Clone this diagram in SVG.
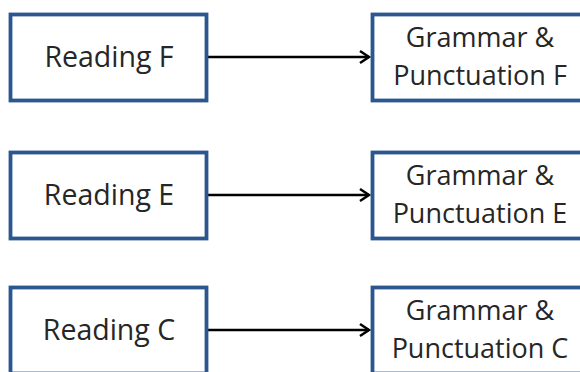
<svg xmlns="http://www.w3.org/2000/svg" width="580" height="372" viewBox="0 0 580 372">
<style>
.box{fill:#fff;stroke:#2b5690;stroke-width:3.8}
.t{font-family:"Open Sans","Liberation Sans",sans-serif;font-size:27px;fill:#262626;text-anchor:middle}
.l{font-size:28.5px}
.c{stroke:#000;stroke-width:2.5;fill:none}
</style>
<defs>
<marker id="ah" markerWidth="14" markerHeight="16" refX="11" refY="8" orient="auto" markerUnits="userSpaceOnUse">
<polyline points="2,2 11,8 2,14" fill="none" stroke="#000" stroke-width="2.5"/>
</marker>
</defs>
<rect width="580" height="372" fill="#fff"/>
<g id="connectors">
<line class="c" x1="208" y1="57" x2="369" y2="57" marker-end="url(#ah)"/>
<line class="c" x1="208" y1="195" x2="369" y2="195" marker-end="url(#ah)"/>
<line class="c" x1="208" y1="330" x2="369" y2="330" marker-end="url(#ah)"/>
</g>
<g id="readingF">
<rect class="box" x="10.5" y="14.5" width="196" height="86"/>
<text class="t l" x="109" y="67">Reading F</text>
</g>
<g id="grammarF">
<rect class="box" x="372.5" y="14.5" width="230" height="86"/>
<text class="t" x="480" y="47">Grammar &amp;</text>
<text class="t" x="480" y="85">Punctuation F</text>
</g>
<g id="readingE">
<rect class="box" x="10.5" y="152.5" width="196" height="86"/>
<text class="t l" x="109" y="205">Reading E</text>
</g>
<g id="grammarE">
<rect class="box" x="372.5" y="152.5" width="230" height="86"/>
<text class="t" x="480" y="185">Grammar &amp;</text>
<text class="t" x="480" y="223">Punctuation E</text>
</g>
<g id="readingC">
<rect class="box" x="10.5" y="287.5" width="196" height="86"/>
<text class="t l" x="109" y="340">Reading C</text>
</g>
<g id="grammarC">
<rect class="box" x="372.5" y="287.5" width="230" height="86"/>
<text class="t" x="480" y="320">Grammar &amp;</text>
<text class="t" x="480" y="358">Punctuation C</text>
</g>
</svg>
